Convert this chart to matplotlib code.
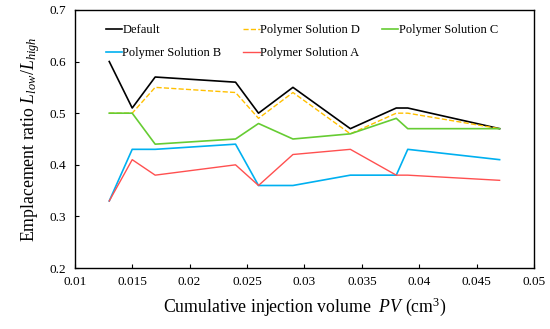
import matplotlib.pyplot as plt

plt.rcParams['font.family'] = ['Liberation Serif', 'DejaVu Serif']
plt.rcParams['mathtext.fontset'] = 'custom'
plt.rcParams['mathtext.rm'] = 'Liberation Serif'
plt.rcParams['mathtext.it'] = 'Liberation Serif:italic'

pv = [0.013, 0.015, 0.017, 0.024, 0.026, 0.029, 0.034, 0.038, 0.039, 0.047]
default = [0.60, 0.51, 0.57, 0.56, 0.50, 0.55, 0.47, 0.51, 0.51, 0.47]
sol_d = [0.50, 0.50, 0.55, 0.54, 0.49, 0.54, 0.46, 0.50, 0.50, 0.47]
sol_c = [0.50, 0.50, 0.44, 0.45, 0.48, 0.45, 0.46, 0.49, 0.47, 0.47]
sol_b = [0.33, 0.43, 0.43, 0.44, 0.36, 0.36, 0.38, 0.38, 0.43, 0.41]
sol_a = [0.33, 0.41, 0.38, 0.40, 0.36, 0.42, 0.43, 0.38, 0.38, 0.37]

fig = plt.figure(figsize=(5.5, 3.29), dpi=100)
ax = fig.add_axes([0.136, 0.185, 0.835, 0.785])

l0, = ax.plot(pv, default, c='black', lw=1.2, label='Default')
l1, = ax.plot(pv, sol_d, c='#ffc000', lw=1.0, ls='--', label='Polymer Solution D')
l2, = ax.plot(pv, sol_c, c='#66cc33', lw=1.2, label='Polymer Solution C')
l3, = ax.plot(pv, sol_b, c='#00b0f0', lw=1.2, label='Polymer Solution B')
l4, = ax.plot(pv, sol_a, c='#ff5050', lw=1.0, label='Polymer Solution A')

ax.set_xlim(0.01, 0.05)
ax.set_ylim(0.2, 0.7)
ax.set_xticks([0.01, 0.015, 0.02, 0.025, 0.03, 0.035, 0.04, 0.045, 0.05])
ax.set_xticklabels(['0.01', '0.015', '0.02', '0.025', '0.03', '0.035', '0.04', '0.045', '0.05'])
ax.set_yticks([0.2, 0.3, 0.4, 0.5, 0.6, 0.7])
ax.set_yticklabels(['0.2', '0.3', '0.4', '0.5', '0.6', '0.7'])
ax.tick_params(direction='in', length=3, labelsize=9.5, pad=6)
for s in ax.spines.values():
    s.set_linewidth(1.0)

ax.set_xlabel(r'Cumulative injection volume  $\mathit{PV}$ (cm$^3$)', fontsize=12.8, labelpad=5)
ax.set_ylabel(r'Emplacement ratio $L_{low}/L_{high}$', fontsize=12.8, labelpad=6)

# row-major order for 3 columns
handles = [l0, l3, l1, l4, l2]
ax.legend(handles, [h.get_label() for h in handles], loc='upper left',
          bbox_to_anchor=(0.067, 0.945), ncol=3, frameon=False,
          fontsize=9.0, handlelength=1.3, handletextpad=0.05, columnspacing=1.75,
          labelspacing=0.9, borderaxespad=0.0, borderpad=0.0)

fig.savefig('out.png', dpi=100)
